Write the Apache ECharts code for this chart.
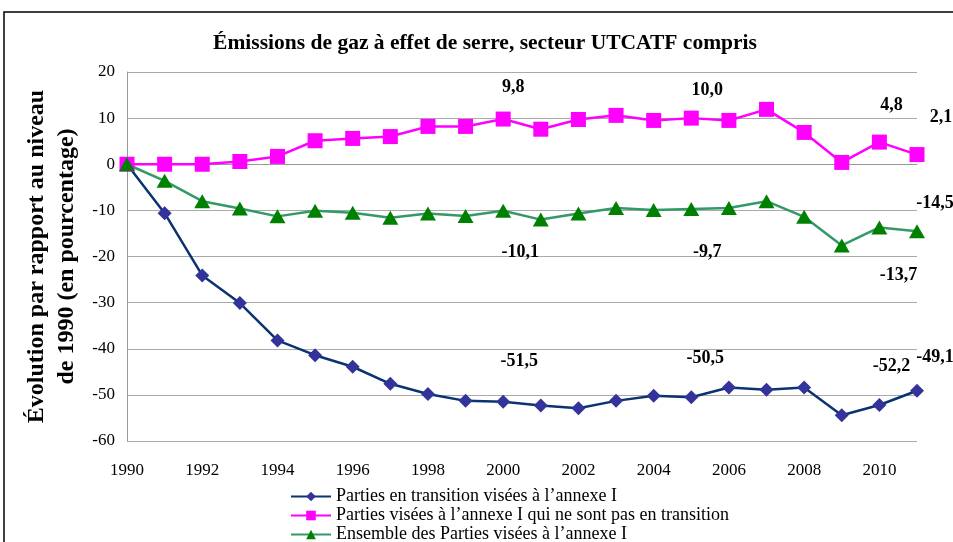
<!DOCTYPE html>
<html>
<head>
<meta charset="utf-8">
<script src="https://cdn.jsdelivr.net/npm/echarts@6/dist/echarts.min.js"></script>
<style>
  html, body { margin: 0; padding: 0; background: #fff; }
  #chart { width: 953px; height: 542px; }
</style>
</head>
<body>
<div id="chart"></div>
<script>
// données (évolution en % par rapport à 1990)
var years = ['1990', '1991', '1992', '1993', '1994', '1995', '1996', '1997', '1998', '1999', '2000',
  '2001', '2002', '2003', '2004', '2005', '2006', '2007', '2008', '2009', '2010', '2011'];
var eitValues = [0, -10.6, -24.1, -30.1, -38.2, -41.4, -43.9, -47.6, -49.8, -51.3, -51.5,
  -52.3, -52.9, -51.3, -50.2, -50.5, -48.4, -48.9, -48.4, -54.4, -52.2, -49.1];
var nonEitValues = [0, 0, 0, 0.6, 1.7, 5.1, 5.6, 6.0, 8.2, 8.2, 9.8,
  7.6, 9.7, 10.6, 9.5, 10.0, 9.5, 11.9, 6.9, 0.4, 4.8, 2.1];
var totalValues = [0, -3.6, -8.0, -9.6, -11.3, -10.1, -10.5, -11.6, -10.7, -11.2, -10.1,
  -12.0, -10.7, -9.5, -9.9, -9.7, -9.5, -8.0, -11.4, -17.6, -13.7, -14.5];
var labeledYears = ['2000', '2005', '2010', '2011'];
var seriesNames = [
  'Parties en transition visées à l’annexe I',
  'Parties visées à l’annexe I qui ne sont pas en transition',
  'Ensemble des Parties visées à l’annexe I'
];
var yTicks = { min: -60, max: 20, interval: 10 };

var serif = 'Liberation Serif';

// décalage des étiquettes (centre de l'étiquette par rapport au point)
var labelOffsets = {
  eit:    { '2000': [16, -40], '2005': [14, -39], '2010': [12, -39], '2011': [18, -33] },
  nonEit: { '2000': [10, -32], '2005': [16, -28], '2010': [12, -37], '2011': [24, -37] },
  total:  { '2000': [17, 42],  '2005': [16, 43],  '2010': [19, 48],  '2011': [18, -28] }
};

function fmt(v) {
  return v.toFixed(1).replace('.', ',');
}

function buildData(values, offsets) {
  return values.map(function (v, i) {
    var y = years[i];
    if (labeledYears.indexOf(y) < 0) return v;
    return {
      value: v,
      label: {
        show: true,
        position: 'inside',
        offset: offsets[y],
        formatter: function (p) { return fmt(p.value); },
        color: '#000',
        fontFamily: serif,
        fontWeight: 'bold',
        fontSize: 18
      }
    };
  });
}

var chart = echarts.init(document.getElementById('chart'));

chart.setOption({
  animation: false,
  backgroundColor: '#fff',
  title: {
    text: 'Émissions de gaz à effet de serre, secteur UTCATF compris',
    left: 480,
    textAlign: 'center',
    top: 27,
    textStyle: { fontFamily: serif, fontWeight: 'bold', fontSize: 21.5, color: '#000' }
  },
  graphic: [{
    type: 'rect',
    shape: { x: 4, y: 12, width: 1000, height: 700 },
    style: { fill: 'none', stroke: '#000', lineWidth: 1.5 },
    silent: true
  }],
  grid: { left: 127, right: 36, top: 72, bottom: 101 },
  legend: {
    orient: 'vertical',
    left: 285,
    top: 482,
    height: 80,
    itemWidth: 40,
    itemHeight: 12,
    itemGap: 0,
    textStyle: { fontFamily: serif, fontSize: 18, color: '#000', lineHeight: 19 },
    data: seriesNames
  },
  xAxis: {
    type: 'category',
    data: years,
    boundaryGap: false,
    axisLine: { lineStyle: { color: '#999', width: 1 } },
    axisTick: { show: false },
    axisLabel: { interval: 1, color: '#000', fontFamily: serif, fontSize: 17, margin: 21 },
    splitLine: { show: false }
  },
  yAxis: {
    type: 'value',
    min: yTicks.min,
    max: yTicks.max,
    interval: yTicks.interval,
    name: 'Évolution par rapport au niveau\nde 1990 (en pourcentage)',
    nameLocation: 'middle',
    nameGap: 38,
    nameTextStyle: { fontFamily: serif, fontWeight: 'bold', fontSize: 24, color: '#000', lineHeight: 30 },
    axisLine: { show: true, lineStyle: { color: '#999', width: 1 } },
    axisTick: { show: false },
    axisLabel: { color: '#000', fontFamily: serif, fontSize: 17, margin: 12 },
    splitLine: { lineStyle: { color: '#aaa', width: 1 } }
  },
  series: [
    {
      name: seriesNames[0],
      type: 'line',
      data: buildData(eitValues, labelOffsets.eit),
      symbol: 'diamond',
      symbolSize: 14,
      lineStyle: { color: '#0a3370', width: 2.5 },
      itemStyle: { color: '#333399' }
    },
    {
      name: seriesNames[1],
      type: 'line',
      data: buildData(nonEitValues, labelOffsets.nonEit),
      symbol: 'rect',
      symbolSize: 15,
      lineStyle: { color: '#ff00ff', width: 2.5 },
      itemStyle: { color: '#ff00ff' }
    },
    {
      name: seriesNames[2],
      type: 'line',
      data: buildData(totalValues, labelOffsets.total),
      symbol: 'triangle',
      symbolSize: [16, 14],
      lineStyle: { color: '#339966', width: 2.5 },
      itemStyle: { color: '#008000' }
    }
  ]
});
</script>
</body>
</html>
